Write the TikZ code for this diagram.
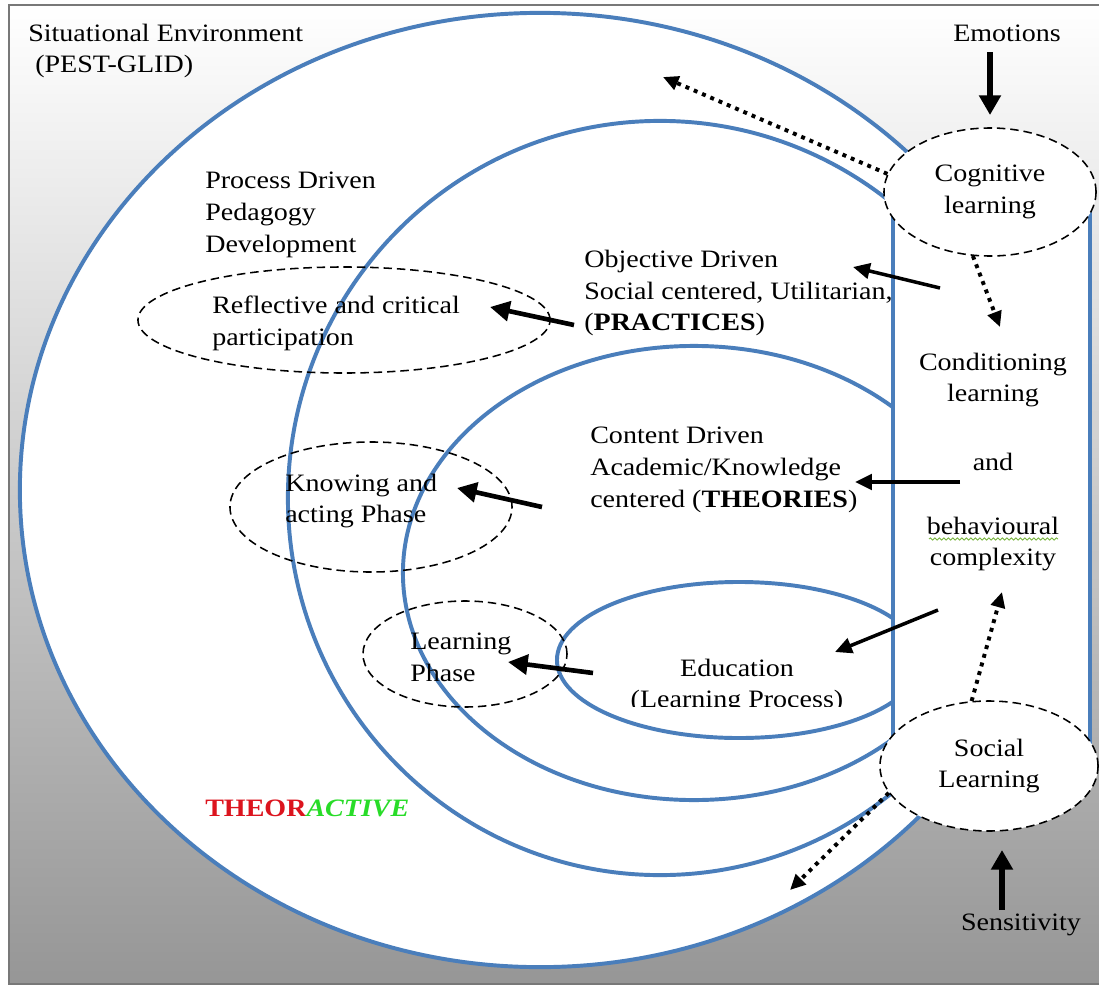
\documentclass[tikz,border=0pt]{standalone}
\usepackage{fontspec}
\setmainfont[FakeStretch=1.12]{Liberation Serif}
\usetikzlibrary{arrows.meta,shapes.geometric,decorations.pathmorphing}
\definecolor{ringblue}{RGB}{74,126,187}
\definecolor{bggray}{RGB}{150,150,150}
\definecolor{bordergray}{RGB}{120,120,120}
\definecolor{theored}{RGB}{220,20,30}
\definecolor{theogreen}{RGB}{40,220,40}
\definecolor{spellgreen}{RGB}{120,180,60}
\begin{document}
\begin{tikzpicture}[x=0.025cm,y=-0.025cm,
  txt/.style={inner sep=0pt, font=\fontsize{17.8}{22.7}\selectfont, align=left},
  ctxt/.style={inner sep=0pt, font=\fontsize{17.8}{22.7}\selectfont, align=center},
  ring/.style={draw=ringblue, line width=2.8pt, fill=white},
  dashell/.style={ellipse, draw=black, dash pattern=on 6pt off 3.5pt, line width=1.1pt, inner sep=0pt},
  solidarrow/.style={line width=2.5pt, -{Triangle[length=12pt,width=11pt]}},
  boldarrow/.style={line width=3.3pt, -{Triangle[length=14pt,width=14pt]}},
  bigarrow/.style={line width=3.6pt, -{Triangle[length=14pt,width=15pt]}},
  dotarrow/.style={line width=2.8pt, dash pattern=on 2.8pt off 3.6pt, -{Triangle[length=11pt,width=10pt]}},
]
\useasboundingbox (0,0) rectangle (1099,986);
\clip (0,0) rectangle (1099,986);
% background
\shade[top color=white, bottom color=bggray] (9,5) rectangle (1110,984);
\draw[bordergray, line width=1.4pt] (9,5) rectangle (1110,984);
% rings
\draw[ring] (540,490) ellipse [x radius=13cm, y radius=11.925cm];
\draw[ring] (660,498) ellipse [x radius=9.3cm, y radius=9.425cm];
\draw[ring] (694,573) ellipse [x radius=7.275cm, y radius=5.675cm];
\draw[ring] (739,660) ellipse [x radius=4.55cm, y radius=1.95cm];
% right column
\draw[ring] (893,205) rectangle (1090,750);
% learning type ellipses
\node[dashell, fill=white, minimum width=5.3cm, minimum height=3.2cm, ctxt] (cog) at (990,192) {Cognitive\\learning};
\node[dashell, fill=white, minimum width=5.45cm, minimum height=3.25cm, ctxt] (soc) at (989,766) {Social\\Learning};
% phase ellipses
\node[dashell, minimum width=10.3cm, minimum height=2.65cm] (refl) at (344,320) {};
\node[dashell, minimum width=7.05cm, minimum height=3.25cm] (know) at (371,507) {};
\node[dashell, minimum width=5.1cm, minimum height=2.65cm] (learn) at (465,654) {};
% texts
\node[txt, anchor=west] (sit) at (28,51) {Situational Environment\\\hspace*{5pt}(PEST-GLID)};
\node[ctxt] (emo) at (1007,33) {Emotions};
\node[ctxt] (sens) at (1021,925) {Sensitivity};
\node[txt, anchor=west] (pdd) at (205,215) {Process Driven\\Pedagogy\\Development};
\node[txt, anchor=west] (refltxt) at (212,323) {Reflective and critical\\participation};
\node[txt, anchor=west] (obj) at (584,293) {Objective Driven\\Social centered, Utilitarian,\\(\textbf{PRACTICES})};
\node[txt, anchor=west] (cont) at (590,470) {Content Driven\\Academic/Knowledge\\centered (\textbf{THEORIES})};
\node[txt, anchor=west] (knowtxt) at (285,501) {Knowing and\\acting Phase};
\node[txt, anchor=west] (learntxt) at (410,657) {Learning\\Phase};
\begin{scope}
\clip (540,560) rectangle (893,706);
\node[ctxt] (edu) at (737,686) {Education\\(Learning Process)};
\end{scope}
\node[ctxt] (cond) at (993,380) {Conditioning\\learning};
\node[ctxt] (and) at (993,462) {and};
\node[ctxt] (beh) at (993,544) {behavioural\\complexity};
\draw[spellgreen, line width=0.6pt, decorate, decoration={snake, amplitude=0.8pt, segment length=3.2pt}] (929,539) -- (1058,539);
\node[txt, anchor=west] (theo) at (205,808) {\textbf{\color{theored}THEOR}\textbf{\textit{\color{theogreen}ACTIVE}}};
% arrow end points
\coordinate (e1) at (990,52);  \coordinate (e2) at (990,115);
\coordinate (s1) at (1002,910); \coordinate (s2) at (1002,850);
\coordinate (a1s) at (940,288); \coordinate (a1e) at (853,267);
\coordinate (a2s) at (574,325); \coordinate (a2e) at (490,307);
\coordinate (a3s) at (960,482); \coordinate (a3e) at (855,482);
\coordinate (a4s) at (542,507); \coordinate (a4e) at (457,488);
\coordinate (a5s) at (938,610); \coordinate (a5e) at (835,652);
\coordinate (a6s) at (593,673); \coordinate (a6e) at (508,662);
\coordinate (d1e) at (663,77);
\coordinate (d2e) at (1000,327);
\coordinate (d3e) at (1002,592);
\coordinate (d4e) at (790,890);
% arrows
\draw[bigarrow] (e1) -- (e2);
\draw[bigarrow] (s1) -- (s2);
\draw[solidarrow] (a1s) -- (a1e);
\draw[boldarrow] (a2s) -- (a2e);
\draw[solidarrow] (a3s) -- (a3e);
\draw[boldarrow] (a4s) -- (a4e);
\draw[solidarrow] (a5s) -- (a5e);
\draw[boldarrow] (a6s) -- (a6e);
\draw[dotarrow] (cog.170) -- (d1e);
\draw[dotarrow] (cog.255) -- (d2e);
\draw[dotarrow] (soc.105) -- (d3e);
\draw[dotarrow] (soc.195) -- (d4e);
\end{tikzpicture}
\end{document}
